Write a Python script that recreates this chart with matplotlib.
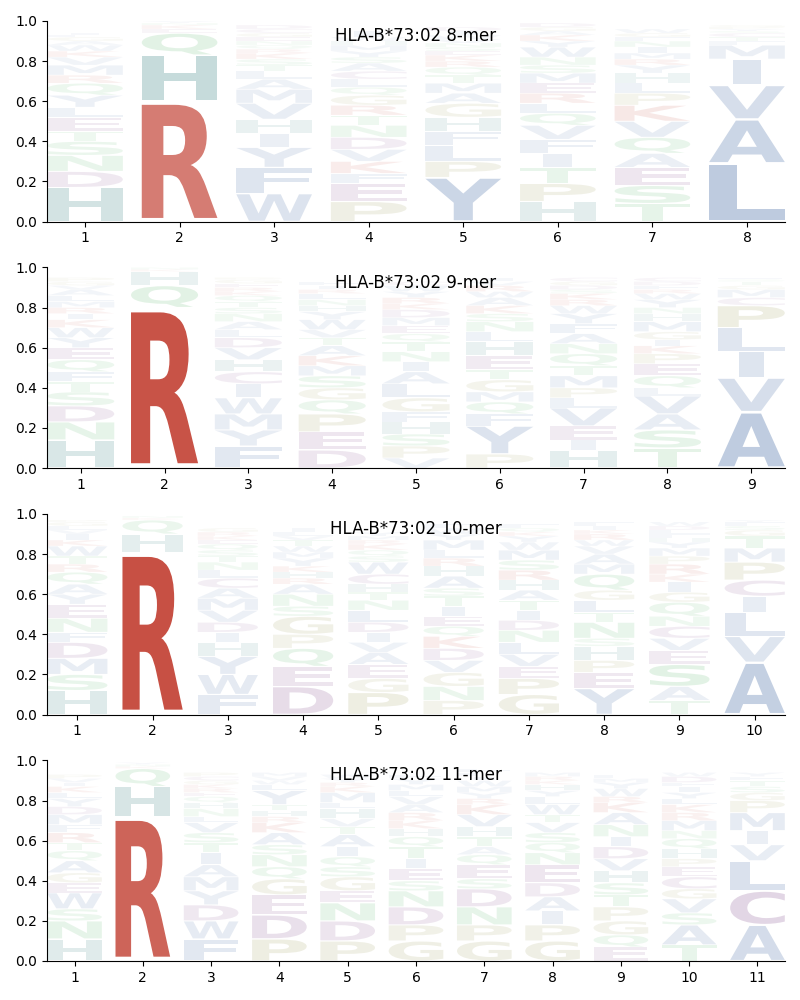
import matplotlib
matplotlib.use("Agg")
import matplotlib.pyplot as plt
from matplotlib.textpath import TextPath
from matplotlib.patches import PathPatch
from matplotlib.font_manager import FontProperties
from matplotlib.transforms import Affine2D

allele = "HLA-B*73:02"
peptide_lengths = [8, 9, 10, 11]

# letters per position, bottom to top, with their frequencies
letters_8mer = ["HDNSTELYQRMVKWAGFI", "RHQEKNY", "WFYIHVMALTSKRQNEGCD", "PEFKVDNTRGQLCASYMHWI",
                "YPLFHGAMTQRKESNVWID", "HPTIFVQLREMSNWYKAGD", "TSEAQVKPLHYRMINFGW", "LAVIMFTCSYPG"]
heights_8mer = [
    [.17, .08, .08, .07, .05, .07, .05, .06, .06, .04, .05, .04, .03, .03, .02, .02, .01, .01],
    [.60, .23, .11, .02, .02, .01, .01],
    [.14, .13, .10, .07, .07, .08, .07, .05, .04, .03, .03, .03, .02, .02, .02, .02, .02, .02, .02],
    [.10, .09, .05, .06, .06, .06, .06, .05, .05, .05, .04, .04, .04, .04, .03, .03, .03, .02, .02, .03],
    [.22, .08, .08, .07, .07, .07, .05, .05, .04, .04, .03, .03, .02, .02, .02, .02, .02, .02, .02],
    [.10, .09, .08, .07, .07, .07, .06, .05, .05, .05, .05, .04, .04, .05, .03, .03, .02, .02, .02],
    [.09, .09, .09, .07, .08, .08, .08, .06, .05, .05, .04, .03, .03, .03, .03, .02, .02, .02],
    [.29, .22, .17, .13, .07, .02, .02, .02, .01, .01, .01, .01],
]

letters_9mer = ["HNDSTFQEYWKIRMLAVGP", "RQHKN", "FYMWICHVDLANSTQKREGP", "DEPQGSMKATVWYHNLRIF",
                "VPSHFGLAINTQEMDKRYWC", "PYFQMGTEHLNSKAWRVI", "HIEVLPMTQNAFYWRKSDGC",
                "TSAVLQEPKIGMHNYWRFDC", "AVILPCMGTSF"]
heights_9mer = [
    [.14, .09, .08, .07, .05, .05, .06, .06, .05, .05, .04, .03, .03, .03, .03, .03, .02, .02, .02],
    [.80, .11, .07, .01, .01],
    [.11, .08, .08, .08, .07, .06, .06, .06, .05, .04, .04, .04, .03, .03, .03, .02, .02, .02, .02, .01],
    [.09, .09, .09, .07, .06, .06, .05, .05, .05, .04, .04, .05, .04, .03, .03, .03, .02, .02, .02],
    [.05, .06, .06, .06, .05, .07, .07, .06, .05, .05, .05, .04, .04, .04, .04, .03, .03, .03, .03, .02],
    [.07, .14, .06, .06, .05, .06, .05, .07, .07, .05, .05, .04, .04, .04, .03, .03, .02, .02],
    [.09, .05, .07, .09, .05, .05, .06, .05, .06, .05, .05, .05, .05, .04, .03, .03, .02, .02, .02, .02],
    [.10, .09, .08, .09, .04, .06, .06, .05, .04, .03, .04, .05, .04, .03, .04, .03, .02, .02, .02, .02],
    [.28, .17, .13, .12, .11, .04, .04, .02, .02, .01, .01],
]

letters_10mer = ["HSMDFNEYAQRTWKIVLGP", "RHQKN", "FWYHIDVMACLNTSQEKRG", "DEQPGSNARHKYMWTVLI",
                 "PGEAVIDLNTHCWSQKRMY", "PNGVDKQEITSAHRLMYWF", "GPEVLNDITAHRSMWYKQF",
                 "YEPHSNTLGQMAVWRKIF", "TASEVCNQGIKRPMYHFLDW", "AVLICPMTGSFY"]
heights_10mer = [
    [.12, .08, .08, .08, .05, .07, .07, .05, .05, .06, .04, .04, .05, .03, .03, .02, .02, .02, .01],
    [.81, .09, .07, .01, .01],
    [.10, .10, .09, .07, .05, .05, .06, .06, .05, .05, .04, .04, .03, .03, .03, .02, .02, .02, .02],
    [.14, .10, .09, .07, .09, .05, .06, .05, .03, .03, .03, .04, .03, .03, .03, .02, .02, .02],
    [.11, .07, .07, .06, .05, .05, .05, .06, .05, .04, .04, .05, .06, .03, .03, .03, .02, .02, .02],
    [.07, .07, .07, .06, .06, .06, .05, .05, .05, .05, .04, .06, .05, .04, .04, .05, .03, .03, .02],
    [.10, .08, .06, .06, .06, .06, .05, .05, .05, .05, .05, .05, .05, .05, .04, .03, .02, .02, .02],
    [.13, .08, .06, .07, .04, .08, .05, .06, .05, .08, .05, .05, .04, .03, .03, .02, .02, .02],
    [.07, .07, .11, .07, .06, .06, .05, .07, .05, .05, .04, .05, .04, .04, .03, .02, .02, .02, .02, .02],
    [.26, .13, .12, .08, .08, .09, .07, .06, .03, .02, .02, .01],
]

letters_11mer = ["HNSWEGAQTRFMDYLKIVP", "RHQKNY", "FWDYMAITSVLNHQERKGCP", "PDEGQNSAKRHTYLWVM",
                 "PDNEGSQIATVHLMKRYW", "GPDNSEITQHKRAVLMYF", "GPNDSEQATHVKRYMWILF",
                 "GPIADENQSVTWLYHKRM", "EQGPTSHVDINAKRWYML", "TASVGCEPHQNMRKLYIFDW", "ACLVIMPGSTFY"]
heights_11mer = [
    [.11, .09, .06, .08, .05, .05, .06, .05, .04, .05, .04, .05, .04, .04, .03, .03, .02, .02, .02],
    [.72, .15, .09, .01, .01, .01],
    [.11, .09, .08, .07, .07, .06, .06, .05, .05, .05, .03, .04, .03, .03, .02, .02, .02, .02, .02, .02],
    [.11, .12, .10, .08, .06, .06, .05, .06, .05, .03, .03, .03, .07, .03, .02, .02, .02],
    [.10, .10, .09, .06, .07, .05, .05, .05, .06, .04, .04, .05, .03, .05, .03, .02, .02, .02],
    [.10, .08, .09, .08, .05, .06, .05, .06, .05, .04, .04, .04, .04, .04, .03, .03, .03, .02],
    [.10, .08, .09, .09, .05, .07, .05, .04, .05, .05, .06, .05, .03, .03, .03, .03, .02, .02, .02],
    [.10, .08, .07, .07, .07, .09, .06, .05, .05, .05, .04, .05, .04, .03, .03, .02, .02, .02],
    [.07, .06, .07, .07, .06, .06, .06, .06, .06, .05, .06, .06, .05, .03, .04, .03, .02, .02],
    [.08, .10, .06, .07, .05, .06, .05, .04, .05, .05, .04, .05, .04, .04, .03, .03, .03, .02, .03, .02],
    [.18, .17, .15, .08, .07, .09, .06, .04, .03, .03, .02, .02],
]

all_letters = [letters_8mer, letters_9mer, letters_10mer, letters_11mer]
all_heights = [heights_8mer, heights_9mer, heights_10mer, heights_11mer]

blue = '#3c64a0'
red = '#c0392b'
teal = '#2d7a7a'
mauve = '#783c82'
olive = '#8c8c3c'
green = '#3caa50'
letter_colors = {}
for aa in 'AVLIMFWY':
    letter_colors[aa] = blue
for aa in 'RK':
    letter_colors[aa] = red
letter_colors['H'] = teal
for aa in 'DEC':
    letter_colors[aa] = mauve
for aa in 'PG':
    letter_colors[aa] = olive
for aa in 'STNQ':
    letter_colors[aa] = green

# narrow glyphs keep part of their natural width
width_factor = {'I': 0.38}

font = FontProperties(family='DejaVu Sans', weight='bold')
glyphs = {}


def draw_letter(ax, ch, x, y, w, h):
    if ch not in glyphs:
        glyphs[ch] = TextPath((0, 0), ch, size=1, prop=font)
    path = glyphs[ch]
    ext = path.get_extents()
    w = w * width_factor.get(ch, 1.0)
    pad = h * 0.03
    t = (Affine2D().translate(-ext.x0, -ext.y0)
         .scale(w / ext.width, (h - 2 * pad) / ext.height)
         .translate(x - w / 2, y + pad))
    alpha = min(1.0, 0.03 + 1.05 * h)
    ax.add_patch(PathPatch(t.transform_path(path), facecolor=letter_colors[ch],
                           edgecolor='none', lw=0, alpha=alpha))


fig, axes = plt.subplots(4, 1, figsize=(8, 10), dpi=100)
plt.subplots_adjust(left=0.059, right=0.981, top=0.979, bottom=0.039, hspace=0.229)

for ax, n, letters, heights in zip(axes, peptide_lengths, all_letters, all_heights):
    for pos in range(n):
        y = 0
        for ch, h in zip(letters[pos], heights[pos]):
            draw_letter(ax, ch, pos + 1, y, 0.8, h)
            y += h
    ax.set_xlim(0.6, n + 0.4)
    ax.set_ylim(0, 1)
    ax.set_xticks(range(1, n + 1))
    ax.set_yticks([0, 0.2, 0.4, 0.6, 0.8, 1.0])
    ax.spines['top'].set_visible(False)
    ax.spines['right'].set_visible(False)
    ax.text(0.5, 0.925, f'{allele} {n}-mer', transform=ax.transAxes,
            ha='center', va='center', fontsize=12)

plt.savefig('out.png', dpi=100)
plt.close()
